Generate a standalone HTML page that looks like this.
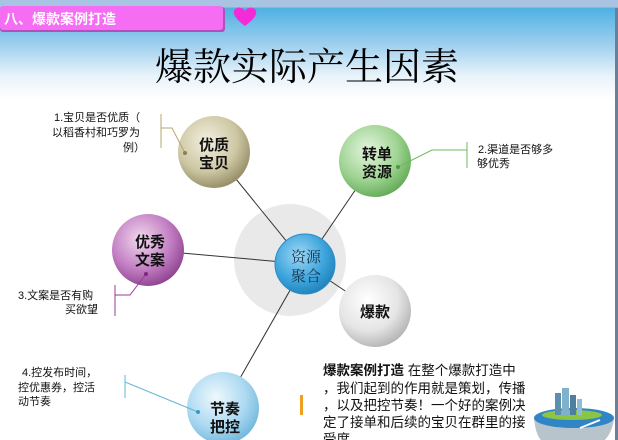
<!DOCTYPE html>
<html><head><meta charset="utf-8"><style>
body{margin:0;width:618px;height:440px;overflow:hidden;background:#fff;font-family:"Liberation Sans","Noto Sans CJK SC",sans-serif}
</style></head><body>
<svg width="618" height="440" xmlns="http://www.w3.org/2000/svg" style="position:absolute;left:0;top:0">
<defs>
<linearGradient id="bg" x1="0" y1="0" x2="0" y2="1">
<stop offset="0" stop-color="#a9c3e2"/><stop offset="0.07" stop-color="#a9c3e2"/>
<stop offset="0.08" stop-color="#4eb1e3"/><stop offset="0.45" stop-color="#9fd0ee"/>
<stop offset="0.75" stop-color="#e6f2fa"/><stop offset="1" stop-color="#ffffff"/>
</linearGradient>
<radialGradient id="gold" cx="0.4" cy="0.35" r="0.7"><stop offset="0" stop-color="#f3efe0"/><stop offset="0.6" stop-color="#cdc7a3"/><stop offset="1" stop-color="#8f8860"/></radialGradient>
<radialGradient id="green" cx="0.4" cy="0.35" r="0.7"><stop offset="0" stop-color="#e6f5df"/><stop offset="0.6" stop-color="#9ed392"/><stop offset="1" stop-color="#5ea852"/></radialGradient>
<radialGradient id="purple" cx="0.4" cy="0.35" r="0.7"><stop offset="0" stop-color="#f1d9ef"/><stop offset="0.6" stop-color="#c27ec2"/><stop offset="1" stop-color="#8a3e8c"/></radialGradient>
<radialGradient id="blue" cx="0.4" cy="0.35" r="0.7"><stop offset="0" stop-color="#9fd7f4"/><stop offset="0.6" stop-color="#3ea6dd"/><stop offset="1" stop-color="#1f7fb8"/></radialGradient>
<radialGradient id="gray" cx="0.4" cy="0.35" r="0.7"><stop offset="0" stop-color="#ffffff"/><stop offset="0.6" stop-color="#e5e5e5"/><stop offset="1" stop-color="#b0b0b0"/></radialGradient>
<radialGradient id="lblue" cx="0.4" cy="0.35" r="0.7"><stop offset="0" stop-color="#eef8fd"/><stop offset="0.6" stop-color="#acd9f1"/><stop offset="1" stop-color="#6fb4dc"/></radialGradient>
</defs>
<rect x="0" y="0" width="618" height="100" fill="url(#bg)"/>
<rect x="615" y="8" width="3" height="432" fill="#6a7f99"/>
<rect x="0" y="7" width="225" height="25" rx="3" fill="#b24fb8"/>
<rect x="0" y="6" width="223" height="24" rx="3" fill="#f46df2"/>
<text x="4" y="24" font-size="14" font-weight="bold" fill="#fff">八、爆款案例打造</text>
<path d="M245 26 C236 19 233 15 234 11 C235 7 242 6 245 11 C248 6 255 7 256 11 C257 15 254 19 245 26Z" fill="#f52bd8"/>
<text x="307" y="80" font-size="38" text-anchor="middle" font-family="'Liberation Serif','Noto Serif CJK SC',serif" fill="#000">爆款实际产生因素</text>

<circle cx="290" cy="260" r="56" fill="#e9e9e9"/>
<g stroke="#333" stroke-width="1">
<line x1="305" y1="264" x2="214" y2="152"/><line x1="305" y1="264" x2="375" y2="161"/>
<line x1="305" y1="264" x2="148" y2="250"/><line x1="305" y1="264" x2="375" y2="311"/>
<line x1="305" y1="264" x2="223" y2="408"/>
</g>
<circle cx="214" cy="152" r="36" fill="url(#gold)"/>
<circle cx="375" cy="161" r="36" fill="url(#green)"/>
<circle cx="148" cy="250" r="36" fill="url(#purple)"/>
<circle cx="375" cy="311" r="36" fill="url(#gray)"/>
<circle cx="223" cy="408" r="36" fill="url(#lblue)"/>
<circle cx="305" cy="264" r="30" fill="url(#blue)" stroke="#2a8cc8"/>
<g font-size="15" font-weight="bold" text-anchor="middle" fill="#111">
<text x="214" y="150">优质</text><text x="214" y="168">宝贝</text>
<text x="377" y="159">转单</text><text x="377" y="177">资源</text>
<text x="150" y="247">优秀</text><text x="150" y="265">文案</text>
<text x="375" y="317">爆款</text>
<text x="225" y="414">节奏</text><text x="225" y="432">把控</text>
</g>
<g font-size="15" text-anchor="middle" fill="#1a3550" font-family="'Liberation Serif','Noto Serif CJK SC',serif">
<text x="306" y="262">资源</text><text x="306" y="281">聚合</text>
</g>
<g fill="none" stroke-width="1">
<path d="M161 114 V148 M161 128 H172 L185 153" stroke="#b5a86d"/>
<path d="M467 142 V168 M467 150 H432 L398 167" stroke="#6dba5f"/>
<path d="M115 285 V316 M115 295 H130 L146 274" stroke="#9a3a9a"/>
<path d="M125 375 V398 M125 382 L198 412" stroke="#5fb8d6"/>
</g>
<circle cx="185" cy="153" r="2" fill="#8a7f50"/><circle cx="398" cy="167" r="2" fill="#4a9a40"/>
<circle cx="146" cy="274" r="2" fill="#7a2a7a"/><circle cx="198" cy="412" r="2" fill="#3a98c0"/>
<g font-size="11" fill="#111">
<text x="54" y="121">1.宝贝是否优质（</text><text x="52" y="136">以稻香村和巧罗为</text><text x="123" y="151">例）</text>
<text x="478" y="153">2.渠道是否够多</text><text x="477" y="167">够优秀</text>
<text x="18" y="299">3.文案是否有购</text><text x="65" y="313">买欲望</text>
<text x="22" y="376">4.控发布时间，</text><text x="18" y="391">控优惠券，控活</text><text x="18" y="405">动节奏</text>
</g>
<rect x="300" y="395" width="3" height="20" fill="#f0a020"/>
<g font-size="13.5" fill="#111">
<text x="323" y="375"><tspan font-weight="bold">爆款案例打造</tspan> 在整个爆款打造中</text>
<text x="323" y="393">，我们起到的作用就是策划，传播</text>
<text x="323" y="410">，以及把控节奏！一个好的案例决</text>
<text x="323" y="427">定了接单和后续的宝贝在群里的接</text>
<text x="323" y="444">受度。</text>
</g>
<path d="M534 418 Q536 440 546 444 L600 444 Q612 436 614 418 Z" fill="#b8c4cc"/>
<ellipse cx="574" cy="418" rx="40" ry="10" fill="#2f85c6"/>
<ellipse cx="572" cy="415" rx="30" ry="5" fill="#8cc443"/>
<rect x="555" y="393" width="6" height="22" fill="#5a8fae"/>
<rect x="562" y="388" width="7" height="27" fill="#7fb0cc"/>
<rect x="570" y="395" width="6" height="20" fill="#4e7f9e"/>
<rect x="577" y="399" width="5" height="16" fill="#8fbcd6"/>
<path d="M580 428 L600 420" stroke="#fff" stroke-width="2"/>
</svg>
</body></html>
